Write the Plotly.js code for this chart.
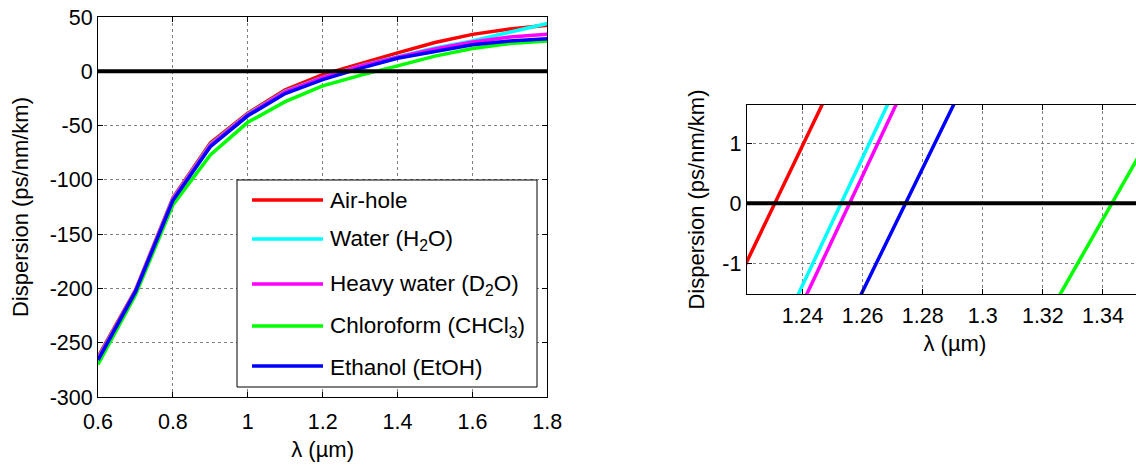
<!DOCTYPE html>
<html><head><meta charset="utf-8">
<script src="https://cdn.plot.ly/plotly-3.0.1.min.js"></script>
<style>html,body{margin:0;padding:0;overflow:hidden;background:#fff}</style>
</head><body><div id="chart" style="width:1170px;height:466px"></div>
<script>
// ---- data ----
const wavelength = [0.6, 0.7, 0.8, 0.9, 1.0, 1.1, 1.2, 1.3, 1.4, 1.5, 1.6, 1.7, 1.8];
const airHole    = [-263, -201.5, -116.5, -66, -38.5, -17, -3.2, 7.2, 17, 26.5, 34, 39, 42.5];
const water      = [-264.5, -202.5, -117.5, -67.5, -39.5, -18.5, -5.6, 5.0, 13.5, 21.5, 28, 36, 44];
const heavyWater = [-265, -202.5, -118, -68, -40, -19, -5.9, 4.7, 13, 20.5, 27, 31.5, 34];
const chloroform = [-270, -206, -123, -77, -47, -28, -13.5, -3.77, 5, 14, 21, 25.5, 28];
const ethanol    = [-266, -203, -119, -69.5, -41, -20.5, -7.6, 2.63, 12, 18.5, 24.5, 28, 30];
const seriesNames = ["Air-hole", "Water (H<sub>2</sub>O)", "Heavy water (D<sub>2</sub>O)",
                     "Chloroform (CHCl<sub>3</sub>)", "Ethanol (EtOH)"];
const seriesValues = [airHole, water, heavyWater, chloroform, ethanol];
const mainXTicks = [0.6, 0.8, 1.0, 1.2, 1.4, 1.6, 1.8];
const mainYTicks = [-300, -250, -200, -150, -100, -50, 0, 50];
const zoomXTicks = [1.24, 1.26, 1.28, 1.3, 1.32, 1.34];
const zoomYTicks = [-1, 0, 1];

// ---- styles ----
const colors = ["#ff0000", "#00ffff", "#ff00ff", "#00ff00", "#0000ff"];
const W = 1170, H = 466, ML = 98, MR = 7, MT = 17, MB = 69;
const PW = W - ML - MR, PH = H - MT - MB;
const px = x => (x - ML) / PW;
const py = y => (H - MB - y) / PH;
const FONT = "Liberation Sans, Arial, sans-serif";
const titleFont = {family: FONT, size: 22, color: '#000'};

const traces = [];
seriesValues.forEach((vals, i) => {
  traces.push({x: wavelength, y: vals, xaxis: 'x', yaxis: 'y', mode: 'lines',
    line: {color: colors[i], width: 3.5}, showlegend: false, hoverinfo: 'skip'});
});
seriesValues.forEach((vals, i) => {
  traces.push({x: wavelength, y: vals, xaxis: 'x2', yaxis: 'y2', mode: 'lines',
    line: {color: colors[i], width: 3.5}, showlegend: false, hoverinfo: 'skip'});
});

const axCommon = {
  showline: true, linecolor: '#000', linewidth: 1, mirror: 'ticks',
  ticks: 'inside', ticklen: 5, tickcolor: '#000', tickwidth: 1,
  showgrid: true, gridcolor: '#808080', griddash: 'dot', gridwidth: 1,
  zeroline: false, tickfont: {family: FONT, size: 21.5, color: '#000'}
};

const shapes = [
  {type: 'line', xref: 'x domain', yref: 'y', x0: 0, x1: 1, y0: 0, y1: 0,
   line: {color: '#000', width: 4}, layer: 'above'},
  {type: 'line', xref: 'x2 domain', yref: 'y2', x0: 0, x1: 1, y0: 0, y1: 0,
   line: {color: '#000', width: 4}, layer: 'above'},
  {type: 'rect', xref: 'paper', yref: 'paper', x0: px(237), x1: px(537), y0: py(387), y1: py(180),
   line: {color: '#000', width: 1}, fillcolor: '#fff', layer: 'above'}
];
const rowY = [200, 239, 284, 326, 366];
const annotations = [];
seriesNames.forEach((name, i) => {
  shapes.push({type: 'line', xref: 'paper', yref: 'paper', x0: px(252), x1: px(323),
    y0: py(rowY[i]), y1: py(rowY[i]), line: {color: colors[i], width: 3.5}, layer: 'above'});
  annotations.push({xref: 'paper', yref: 'paper', x: px(328), y: py(rowY[i] + 1),
    xanchor: 'left', yanchor: 'middle', showarrow: false, text: name,
    font: {family: FONT, size: 22.5, color: '#000'}});
});

const layout = {
  width: W, height: H, margin: {l: ML, r: MR, t: MT, b: MB},
  paper_bgcolor: '#fff', plot_bgcolor: '#fff', showlegend: false,
  xaxis: Object.assign({}, axCommon, {domain: [0, px(547.3)], range: [0.6, 1.8],
    tickvals: mainXTicks, ticktext: mainXTicks.map(String), anchor: 'y', ticklabelstandoff: 5,
    title: {text: 'λ (µm)', font: titleFont, standoff: 8}}),
  yaxis: Object.assign({}, axCommon, {domain: [0, 1], range: [-300, 50],
    tickvals: mainYTicks, ticktext: mainYTicks.map(String), anchor: 'x',
    title: {text: 'Dispersion (ps/nm/km)', font: titleFont, standoff: 14}}),
  xaxis2: Object.assign({}, axCommon, {domain: [px(746.7), 1], range: [1.2214, 1.36],
    tickvals: zoomXTicks, ticktext: zoomXTicks.map(String), anchor: 'y2', ticklabelstandoff: 2,
    title: {text: 'λ (µm)', font: titleFont, standoff: 8}}),
  yaxis2: Object.assign({}, axCommon, {domain: [py(294), py(105)], range: [-1.507, 1.633],
    tickvals: zoomYTicks, ticktext: zoomYTicks.map(String), anchor: 'x2',
    title: {text: 'Dispersion (ps/nm/km)', font: titleFont, standoff: 11}}),
  shapes: shapes, annotations: annotations
};

Plotly.newPlot('chart', traces, layout, {displayModeBar: false, staticPlot: true});
</script></body></html>
